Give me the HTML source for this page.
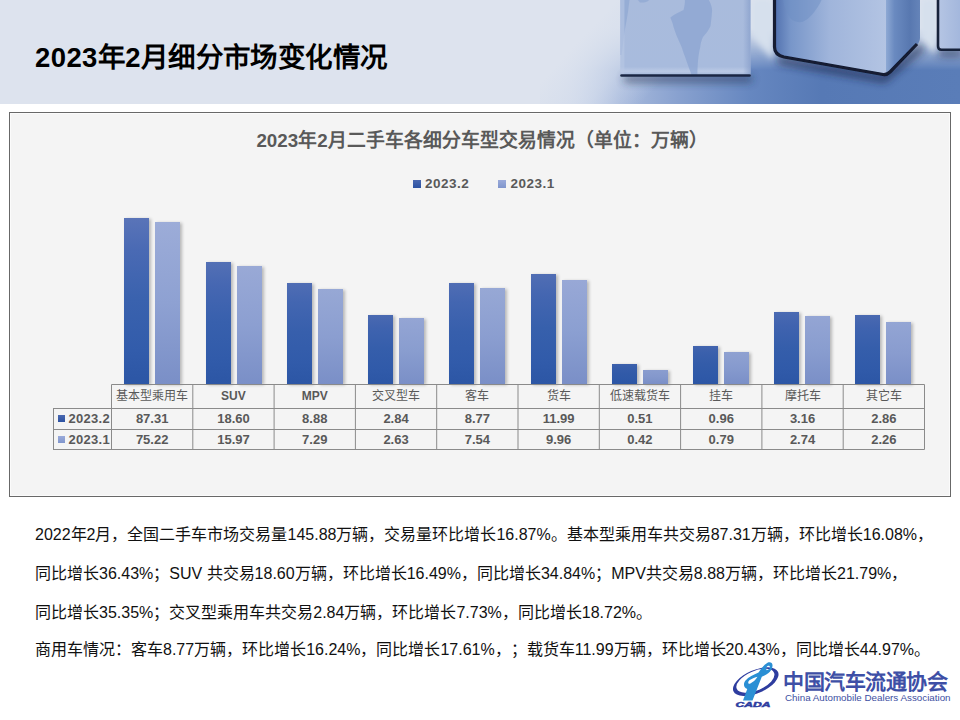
<!DOCTYPE html>
<html lang="zh-CN"><head><meta charset="utf-8">
<style>
*{margin:0;padding:0;box-sizing:border-box}
html,body{text-spacing-trim:space-all;width:960px;height:720px;overflow:hidden;background:#fff;font-family:"Liberation Sans",sans-serif}
.abs{position:absolute}
#hdr{left:0;top:0;width:960px;height:104px;background:linear-gradient(90deg,#dbe1ec 0%,#dce3ee 55%,#c9d3e6 70%,#8fa3cc 100%);overflow:hidden}
#title{left:35px;top:41.5px;font-size:27.5px;line-height:32px;font-weight:bold;color:#000;white-space:nowrap;letter-spacing:0.4px}
#box{left:9px;top:112px;width:942px;height:385px;border:1px solid #686868;box-shadow:inset 1px 1px 0 #fbfbfb,inset -1px -1px 0 #fbfbfb;background:#f4f4f4}
#ctitle{line-height:24px;left:0;top:128.5px;width:964px;text-align:center;font-size:18.8px;font-weight:bold;color:#595959;white-space:nowrap}
.leg{font-size:13.5px;letter-spacing:0.5px;line-height:18px;font-weight:bold;color:#595959;white-space:nowrap}
.sq{display:inline-block;width:7px;height:7px}
.b2{background:linear-gradient(180deg,#5a74b8 0%,#3d60ae 45%,#2c56a5 100%);box-shadow:2px 1px 3px rgba(0,0,0,0.25)}
.b1{background:linear-gradient(180deg,#9cacd8 0%,#8ea1d2 50%,#7a8fc7 100%);box-shadow:2px 1px 3px rgba(0,0,0,0.25)}
table{border-collapse:collapse;position:absolute;font-size:13px;color:#595959}
td{border:1px solid #808080;text-align:center;padding:0}
.hd{font-size:12px;color:#595959;text-align:center;white-space:nowrap;line-height:20px}
.hb{font-weight:bold}
.vl{font-size:13px;font-weight:bold;color:#595959;text-align:center;white-space:nowrap;line-height:18px}
.txt{left:35px;font-size:16px;line-height:20px;color:#111;white-space:nowrap}
</style></head><body>
<div id="hdr" class="abs">
<svg width="960" height="104" viewBox="0 0 960 104" style="position:absolute;left:0;top:0">
<defs>
<filter id="bl2" filterUnits="userSpaceOnUse" x="-20" y="-20" width="1000" height="150"><feGaussianBlur stdDeviation="1.5"/></filter>
<filter id="bl07" filterUnits="userSpaceOnUse" x="-20" y="-20" width="1000" height="150"><feGaussianBlur stdDeviation="0.7"/></filter>
<filter id="bl3" filterUnits="userSpaceOnUse" x="-20" y="-20" width="1000" height="150"><feGaussianBlur stdDeviation="3"/></filter>
<filter id="bl4" filterUnits="userSpaceOnUse" x="-20" y="-20" width="1000" height="150"><feGaussianBlur stdDeviation="4"/></filter>
<linearGradient id="fh" gradientUnits="userSpaceOnUse" x1="540" y1="0" x2="960" y2="0"><stop offset="0" stop-color="#dde3ee" stop-opacity="0"/><stop offset="0.1" stop-color="#cbd6ea"/><stop offset="0.19" stop-color="#a9bbdd"/><stop offset="0.33" stop-color="#88a1cf"/><stop offset="0.5" stop-color="#6687c0"/><stop offset="0.67" stop-color="#5679b5"/><stop offset="1" stop-color="#5a7db8"/></linearGradient>
<linearGradient id="fv" gradientUnits="userSpaceOnUse" x1="0" y1="28" x2="0" y2="70"><stop offset="0" stop-color="#fff" stop-opacity="0"/><stop offset="1" stop-color="#fff" stop-opacity="1"/></linearGradient>
<mask id="fm"><rect x="0" y="0" width="960" height="104" fill="url(#fv)"/></mask>
<linearGradient id="fb" gradientUnits="userSpaceOnUse" x1="0" y1="80" x2="0" y2="104"><stop offset="0" stop-color="#7a98c9" stop-opacity="0"/><stop offset="1" stop-color="#7a98c9" stop-opacity="0.7"/></linearGradient>
<linearGradient id="c1" x1="0" y1="0" x2="0" y2="1"><stop offset="0" stop-color="#a9bbdc"/><stop offset="0.88" stop-color="#a8bbdd"/><stop offset="0.94" stop-color="#bac9e5"/><stop offset="1" stop-color="#9fb3d8"/></linearGradient>
<linearGradient id="c2l" gradientUnits="userSpaceOnUse" x1="774" y1="0" x2="886" y2="0"><stop offset="0" stop-color="#5070ae"/><stop offset="0.15" stop-color="#7896c9"/><stop offset="0.5" stop-color="#a0b5db"/><stop offset="1" stop-color="#b3c4e3"/></linearGradient>
<linearGradient id="c2r" x1="0" y1="0" x2="1" y2="0"><stop offset="0" stop-color="#8ea9d4"/><stop offset="0.25" stop-color="#6a8ac0"/><stop offset="0.7" stop-color="#5878b0"/><stop offset="1" stop-color="#6584b9"/></linearGradient>
<linearGradient id="c1e" x1="0" y1="0" x2="1" y2="0"><stop offset="0" stop-color="#8aa1cc" stop-opacity="0"/><stop offset="1" stop-color="#8aa1cc" stop-opacity="0.8"/></linearGradient>
<linearGradient id="lov" gradientUnits="userSpaceOnUse" x1="575" y1="45" x2="640" y2="105"><stop offset="0" stop-color="#dde3ee" stop-opacity="1"/><stop offset="0.55" stop-color="#d3dcec" stop-opacity="0.6"/><stop offset="1" stop-color="#c8d4ea" stop-opacity="0"/></linearGradient>
<linearGradient id="c3" x1="0" y1="0" x2="1" y2="0"><stop offset="0" stop-color="#b6c6e4"/><stop offset="1" stop-color="#a2b6dc"/></linearGradient>
</defs>
<rect x="0" y="0" width="960" height="104" fill="#dde3ee"/>
<rect x="540" y="0" width="420" height="104" fill="url(#fh)" mask="url(#fm)"/>
<rect x="540" y="0" width="130" height="104" fill="url(#lov)"/>
<path d="M752,-1 L773,-1 L773,60 C766,52 758,44 752,36 Z" fill="#d6e0ed" filter="url(#bl3)"/>
<path d="M921,-1 L937,-1 L937,54 C931,50 925,45 921,40 Z" fill="#d6e0ed" filter="url(#bl3)"/>
<!-- cube1 -->
<path d="M624,79 L752,79" stroke="#24304f" stroke-width="5" filter="url(#bl4)" opacity="0.8"/>
<path d="M620.5,-2 L750.5,-2 L750.5,73 Q750.5,76 747,76 L624,76 Q620.5,76 620.5,73 Z" fill="url(#c1)"/>
<path d="M685,-1 L708.3,-1 C711,4 712.5,8 712,12 C711.5,18 711,22 710.5,26 C708,32 704,35 702.5,38 C701,42 700.5,44 700.3,46.7 C699,52 698.5,56 698,61 C697.6,66 697.4,70 697.4,75 L691.6,75 C690,70 688,66 686.5,61 C685,56 683,52 682,48 C680,43 678,39 676.3,35 C675,31 673.8,28 673.3,26 C672.5,22 671,20 670.4,17.5 C674,14 680,12 683.5,10 C684.5,6 685,3 685,-1 Z" fill="#87a2cf" opacity="0.65"/>
<path d="M620.5,-1 L629.6,-1 C629,4 628.5,8 628,11.7 C627,18 626,24 625,29 C624,35 623.5,40 623,44 C622.5,48 622,52 621.6,55 L620.5,55 Z" fill="#8ea7d1" opacity="0.7"/><path d="M637,-1 L650,-1 C648,2 644,3 640,2.5 Z" fill="#8ea7d1" opacity="0.7"/>
<rect x="743" y="-1" width="7.5" height="76" fill="url(#c1e)"/>
<rect x="620.5" y="-1" width="4" height="76" fill="#b9c8e4" opacity="0.6"/>
<path d="M621.5,75.5 L749.5,75.5" stroke="#1c2744" stroke-width="2.6" stroke-linecap="round" filter="url(#bl07)"/>
<!-- cube2 -->
<path d="M778,60 L884,79 L922,47" stroke="#1a2444" stroke-width="6" fill="none" filter="url(#bl4)" opacity="0.8"/>
<path d="M774,-2 L886,-2 L886,74 L784,57 Q774,55 774,47 Z" fill="url(#c2l)"/>
<path d="M886,-2 L920,-2 L920,38 Q920,42 916,46 L890,73 Q888,75 886,74 Z" fill="url(#c2r)"/>
<path d="M774.5,-2 L774.5,47 Q774.5,55 784,57 L883,74.5 Q887,75 890,72 L917,44" stroke="#121a30" stroke-width="3.2" fill="none" filter="url(#bl07)"/>
<path d="M783,-1 L822,-1 C818,8 812,16 806,20 C800,24 794,22 790,18 C786,12 784,6 783,-1 Z" fill="#6d8ec3" opacity="0.45"/>
<!-- cube3 -->
<path d="M939,53 L962,53" stroke="#1a2444" stroke-width="5" filter="url(#bl4)" opacity="0.8"/>
<path d="M937,-2 L962,-2 L962,50 L941,50 Q937,50 937,46 Z" fill="url(#c3)"/>
<path d="M938,-2 L938,46 Q938,49.8 941.5,49.8 L962,49.8" stroke="#16203a" stroke-width="2.6" fill="none" filter="url(#bl07)"/>
</svg>
</div>
<div id="title" class="abs">2023年2月细分市场变化情况</div>
<div id="box" class="abs"></div>
<div id="ctitle" class="abs">2023年2月二手车各细分车型交易情况（单位：万辆）</div>
<div class="abs" style="left:413px;top:180.3px;width:7.6px;height:7.6px;background:linear-gradient(180deg,#4a68b0,#2c52a2)"></div><div class="abs leg" style="left:425px;top:175px">2023.2</div>
<div class="abs" style="left:498px;top:180.3px;width:7.6px;height:7.6px;background:linear-gradient(180deg,#9aaada,#7f95cc)"></div><div class="abs leg" style="left:510.5px;top:175px">2023.1</div>
<!--BARS-->
<div class="abs b2" style="left:124.2px;top:218.0px;width:25px;height:166.0px;background:linear-gradient(180deg,#5a74b8 0%,#4a6ab4 19%,#3a62ae 49%,#325cab 80%,#2c56a5 100%)"></div>
<div class="abs b1" style="left:155.2px;top:221.7px;width:25.2px;height:162.3px;background:linear-gradient(180deg,#9cacd8 0%,#8ea1d2 50%,#7a8fc7 100%)"></div>
<div class="abs b2" style="left:205.8px;top:261.7px;width:25px;height:122.3px;background:linear-gradient(180deg,#5370b5 0%,#4667b2 19%,#3860ad 49%,#315baa 80%,#2c56a5 100%)"></div>
<div class="abs b1" style="left:236.8px;top:265.8px;width:25.2px;height:118.2px;background:linear-gradient(180deg,#99a9d6 0%,#8c9fd1 50%,#7a8fc7 100%)"></div>
<div class="abs b2" style="left:287.2px;top:282.9px;width:25px;height:101.1px;background:linear-gradient(180deg,#506db4 0%,#4366b1 19%,#375fac 49%,#315baa 80%,#2c56a5 100%)"></div>
<div class="abs b1" style="left:318.2px;top:288.9px;width:25.2px;height:95.1px;background:linear-gradient(180deg,#97a8d5 0%,#8b9ed0 50%,#7a8fc7 100%)"></div>
<div class="abs b2" style="left:367.9px;top:315.0px;width:25px;height:69.0px;background:linear-gradient(180deg,#4a69b1 0%,#3f63af 19%,#355eab 49%,#305aa9 80%,#2c56a5 100%)"></div>
<div class="abs b1" style="left:398.9px;top:317.8px;width:25.2px;height:66.2px;background:linear-gradient(180deg,#94a5d4 0%,#899dcf 50%,#7a8fc7 100%)"></div>
<div class="abs b2" style="left:448.9px;top:282.9px;width:25px;height:101.1px;background:linear-gradient(180deg,#506db4 0%,#4366b1 19%,#375fac 49%,#315baa 80%,#2c56a5 100%)"></div>
<div class="abs b1" style="left:479.9px;top:287.9px;width:25.2px;height:96.1px;background:linear-gradient(180deg,#97a8d5 0%,#8b9ed0 50%,#7a8fc7 100%)"></div>
<div class="abs b2" style="left:531.1px;top:273.8px;width:25px;height:110.2px;background:linear-gradient(180deg,#516eb4 0%,#4466b1 19%,#3760ac 49%,#315baa 80%,#2c56a5 100%)"></div>
<div class="abs b1" style="left:562.1px;top:279.8px;width:25.2px;height:104.2px;background:linear-gradient(180deg,#98a8d6 0%,#8b9fd1 50%,#7a8fc7 100%)"></div>
<div class="abs b2" style="left:611.8px;top:363.9px;width:25px;height:20.1px;background:linear-gradient(180deg,#3c60ac 0%,#365daa 19%,#315aa8 49%,#2e58a7 80%,#2c56a5 100%)"></div>
<div class="abs b1" style="left:642.8px;top:369.9px;width:25.2px;height:14.1px;background:linear-gradient(180deg,#8a9dcf 0%,#8498cc 50%,#7a8fc7 100%)"></div>
<div class="abs b2" style="left:693.0px;top:345.9px;width:25px;height:38.1px;background:linear-gradient(180deg,#4264ae 0%,#3a60ac 19%,#335ca9 49%,#2f59a8 80%,#2c56a5 100%)"></div>
<div class="abs b1" style="left:724.0px;top:351.9px;width:25.2px;height:32.1px;background:linear-gradient(180deg,#8fa1d1 0%,#869ace 50%,#7a8fc7 100%)"></div>
<div class="abs b2" style="left:774.0px;top:311.9px;width:25px;height:72.1px;background:linear-gradient(180deg,#4a6ab2 0%,#4063af 19%,#355eab 49%,#305aa9 80%,#2c56a5 100%)"></div>
<div class="abs b1" style="left:805.0px;top:315.8px;width:25.2px;height:68.2px;background:linear-gradient(180deg,#94a5d4 0%,#899dcf 50%,#7a8fc7 100%)"></div>
<div class="abs b2" style="left:855.0px;top:315.0px;width:25px;height:69.0px;background:linear-gradient(180deg,#4a69b1 0%,#3f63af 19%,#355eab 49%,#305aa9 80%,#2c56a5 100%)"></div>
<div class="abs b1" style="left:886.0px;top:321.8px;width:25.2px;height:62.2px;background:linear-gradient(180deg,#93a5d4 0%,#899ccf 50%,#7a8fc7 100%)"></div>
<svg class="abs" style="left:0;top:0" width="960" height="720"><g stroke="#8a8a8a" stroke-width="1" fill="none"><line x1="111.5" y1="384.5" x2="924.5" y2="384.5"/><line x1="53" y1="408.5" x2="924.5" y2="408.5"/><line x1="53" y1="429.5" x2="924.5" y2="429.5"/><line x1="53" y1="449.5" x2="924.5" y2="449.5"/><line x1="53.5" y1="408.5" x2="53.5" y2="449.5"/><line x1="111.5" y1="384.5" x2="111.5" y2="449.5"/><line x1="192.8" y1="384.5" x2="192.8" y2="449.5"/><line x1="274.1" y1="384.5" x2="274.1" y2="449.5"/><line x1="355.4" y1="384.5" x2="355.4" y2="449.5"/><line x1="436.7" y1="384.5" x2="436.7" y2="449.5"/><line x1="518.0" y1="384.5" x2="518.0" y2="449.5"/><line x1="599.3" y1="384.5" x2="599.3" y2="449.5"/><line x1="680.6" y1="384.5" x2="680.6" y2="449.5"/><line x1="761.9" y1="384.5" x2="761.9" y2="449.5"/><line x1="843.2" y1="384.5" x2="843.2" y2="449.5"/><line x1="924.5" y1="384.5" x2="924.5" y2="449.5"/></g></svg>
<div class="abs hd" style="left:111.5px;top:386px;width:81.3px">基本型乘用车</div>
<div class="abs vl" style="left:111.5px;top:410px;width:81.3px">87.31</div>
<div class="abs vl" style="left:111.5px;top:431px;width:81.3px">75.22</div>
<div class="abs hd hb" style="left:192.8px;top:386px;width:81.3px">SUV</div>
<div class="abs vl" style="left:192.8px;top:410px;width:81.3px">18.60</div>
<div class="abs vl" style="left:192.8px;top:431px;width:81.3px">15.97</div>
<div class="abs hd hb" style="left:274.1px;top:386px;width:81.3px">MPV</div>
<div class="abs vl" style="left:274.1px;top:410px;width:81.3px">8.88</div>
<div class="abs vl" style="left:274.1px;top:431px;width:81.3px">7.29</div>
<div class="abs hd" style="left:355.4px;top:386px;width:81.3px">交叉型车</div>
<div class="abs vl" style="left:355.4px;top:410px;width:81.3px">2.84</div>
<div class="abs vl" style="left:355.4px;top:431px;width:81.3px">2.63</div>
<div class="abs hd" style="left:436.7px;top:386px;width:81.3px">客车</div>
<div class="abs vl" style="left:436.7px;top:410px;width:81.3px">8.77</div>
<div class="abs vl" style="left:436.7px;top:431px;width:81.3px">7.54</div>
<div class="abs hd" style="left:518.0px;top:386px;width:81.3px">货车</div>
<div class="abs vl" style="left:518.0px;top:410px;width:81.3px">11.99</div>
<div class="abs vl" style="left:518.0px;top:431px;width:81.3px">9.96</div>
<div class="abs hd" style="left:599.3px;top:386px;width:81.3px">低速载货车</div>
<div class="abs vl" style="left:599.3px;top:410px;width:81.3px">0.51</div>
<div class="abs vl" style="left:599.3px;top:431px;width:81.3px">0.42</div>
<div class="abs hd" style="left:680.6px;top:386px;width:81.3px">挂车</div>
<div class="abs vl" style="left:680.6px;top:410px;width:81.3px">0.96</div>
<div class="abs vl" style="left:680.6px;top:431px;width:81.3px">0.79</div>
<div class="abs hd" style="left:761.9px;top:386px;width:81.3px">摩托车</div>
<div class="abs vl" style="left:761.9px;top:410px;width:81.3px">3.16</div>
<div class="abs vl" style="left:761.9px;top:431px;width:81.3px">2.74</div>
<div class="abs hd" style="left:843.2px;top:386px;width:81.3px">其它车</div>
<div class="abs vl" style="left:843.2px;top:410px;width:81.3px">2.86</div>
<div class="abs vl" style="left:843.2px;top:431px;width:81.3px">2.26</div>
<div class="abs" style="left:58px;top:415px;width:7px;height:7px;background:linear-gradient(180deg,#4a68b0,#2c52a2)"></div><div class="abs vl" style="left:68.5px;top:410px;text-align:left;letter-spacing:0.3px">2023.2</div>
<div class="abs" style="left:58px;top:436px;width:7px;height:7px;background:linear-gradient(180deg,#9aaada,#7f95cc)"></div><div class="abs vl" style="left:68.5px;top:431px;text-align:left;letter-spacing:0.3px">2023.1</div>
<!--/BARS-->
<div class="abs txt" style="top:525px">2022年2月，全国二手车市场交易量145.88万辆，交易量环比增长16.87%。基本型乘用车共交易87.31万辆，环比增长16.08%，</div>
<div class="abs txt" style="top:564px">同比增长36.43%；SUV 共交易18.60万辆，环比增长16.49%，同比增长34.84%；MPV共交易8.88万辆，环比增长21.79%，</div>
<div class="abs txt" style="top:602.5px">同比增长35.35%；交叉型乘用车共交易2.84万辆，环比增长7.73%，同比增长18.72%。</div>
<div class="abs txt" style="top:640px">商用车情况：客车8.77万辆，环比增长16.24%，同比增长17.61%，；载货车11.99万辆，环比增长20.43%，同比增长44.97%。</div>
<svg class="abs" style="left:725px;top:658px" width="60" height="55" viewBox="0 0 60 55">
<g transform="translate(30.75,23.65) rotate(-23.3)">
<path d="M-24.3,0 A24.3,11.6 0 1 1 24.3,0 A24.3,11.6 0 1 1 -24.3,0 Z M-20.3,-0.9 A20.3,9.7 0 1 0 20.3,-0.9 A20.3,9.7 0 1 0 -20.3,-0.9 Z" fill="#2e3d9f" fill-rule="evenodd"/>
</g>
<path fill-rule="evenodd" fill="#2a8fd4" d="M18,42.5 C20,37 21.3,33.5 22.3,31 C18.5,30 18,25.5 20.5,22.5 C23.5,19 28.5,16.8 33.5,14.5 C36.5,10 39.5,6.5 42.5,4.8 C45.5,3.5 47.8,5.2 47.5,8 C47.2,11 45.5,13.5 43.5,15 C41,17 38.5,18 36.8,18.8 L27.5,42.5 Z M24.8,25.8 C22.8,26.2 22.6,23.5 24.8,22 C27,20.5 30.5,19.2 32.5,18.8 C31,21.5 27.5,24.8 24.8,25.8 Z M41.8,12.2 C40.6,11.6 41.2,8.6 43,7.8 C44.8,7.2 45.4,9 44.6,10.8 Z"/>
<text x="10.5" y="48.6" font-family="Liberation Sans" font-weight="bold" font-style="italic" font-size="8" fill="#2e3d9f" stroke="#2e3d9f" stroke-width="0.5" textLength="35" lengthAdjust="spacingAndGlyphs">CADA</text>
</svg>
<div class="abs" style="left:783px;top:670px;letter-spacing:-0.5px;font-family:'Liberation Serif',serif;font-weight:bold;font-size:21px;color:#3e4fa6;white-space:nowrap;line-height:24px">中国汽车流通协会</div>
<div class="abs" style="left:785px;top:692px;font-size:9.8px;color:#3d4fa2;white-space:nowrap;line-height:12px">China Automobile Dealers Association</div>
</body></html>
